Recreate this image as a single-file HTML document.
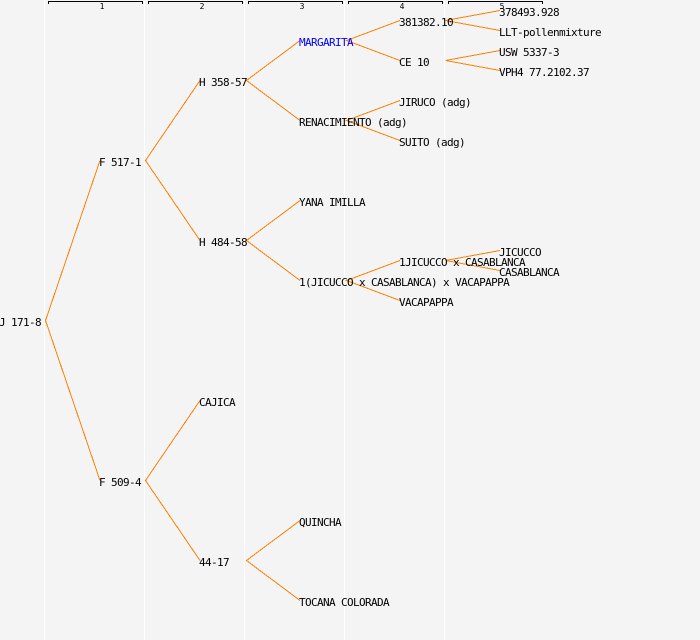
<!DOCTYPE html>
<html>
<head>
<meta charset="utf-8">
<style>
html,body{margin:0;padding:0;background:#f4f4f4;width:700px;height:640px;overflow:hidden}
svg{display:block}
text{font-family:"DejaVu Sans Mono","Liberation Mono",monospace;font-size:11px;letter-spacing:-0.62px;fill:#000}
text.h{font-size:8px;letter-spacing:0;text-anchor:middle}
</style>
</head>
<body>
<svg width="700" height="640" viewBox="0 0 700 640" xmlns="http://www.w3.org/2000/svg">
<rect width="700" height="640" fill="#f4f4f4"/>
<g stroke="#ffffff" stroke-width="1" shape-rendering="crispEdges">
<line x1="44.5" y1="0" x2="44.5" y2="640"/>
<line x1="144.5" y1="0" x2="144.5" y2="640"/>
<line x1="244.5" y1="0" x2="244.5" y2="640"/>
<line x1="344.5" y1="0" x2="344.5" y2="640"/>
<line x1="444.5" y1="0" x2="444.5" y2="640"/>
</g>
<g fill="none" stroke="#000" stroke-width="1" shape-rendering="crispEdges">
<path d="M48.5 4V1.5H142.5V4"/>
<path d="M148.5 4V1.5H242.5V4"/>
<path d="M248.5 4V1.5H342.5V4"/>
<path d="M348.5 4V1.5H442.5V4"/>
<path d="M448.5 4V1.5H542.5V4"/>
</g>
<text class="h" x="102" y="9">1</text>
<text class="h" x="202" y="9">2</text>
<text class="h" x="302" y="9">3</text>
<text class="h" x="402" y="9">4</text>
<text class="h" x="502" y="9">5</text>
<g stroke="#ff8000" stroke-width="1" fill="none" shape-rendering="crispEdges">
<path d="M100 160.500L45.500 320.500L100 480.500"/>
<path d="M200 80.500L145.500 160.500L200 240.500"/>
<path d="M200 400.500L145.500 480.500L200 560.500"/>
<path d="M300 40.500L246.500 80.500L300 120.500"/>
<path d="M300 200.500L246.500 240.500L300 280.500"/>
<path d="M300 520.500L246.500 560.500L300 600.500"/>
<path d="M400 20.500L346.500 40.500L400 60.500"/>
<path d="M400 100.500L346.500 120.500L400 140.500"/>
<path d="M400 260.500L346.500 280.500L400 300.500"/>
<path d="M500 10.500L445.500 20.500L500 30.500"/>
<path d="M500 50.500L445.500 60.500L500 70.500"/>
<path d="M500 250.500L445.500 260.500L500 270.500"/>
</g>
<text x="-1" y="326">J 171-8</text>
<text x="99" y="166">F 517-1</text>
<text x="99" y="486">F 509-4</text>
<text x="199" y="86">H 358-57</text>
<text x="199" y="246">H 484-58</text>
<text x="199" y="406">CAJICA</text>
<text x="199" y="566">44-17</text>
<text x="299" y="46" style="fill:#0000ff">MARGARITA</text>
<text x="299" y="126">RENACIMIENTO (adg)</text>
<text x="299" y="206">YANA IMILLA</text>
<text x="299" y="286">1(JICUCCO x CASABLANCA) x VACAPAPPA</text>
<text x="299" y="526">QUINCHA</text>
<text x="299" y="606">TOCANA COLORADA</text>
<text x="399" y="26">381382.10</text>
<text x="399" y="66">CE 10</text>
<text x="399" y="106">JIRUCO (adg)</text>
<text x="399" y="146">SUITO (adg)</text>
<text x="399" y="266">1JICUCCO x CASABLANCA</text>
<text x="399" y="306">VACAPAPPA</text>
<text x="499" y="16">378493.928</text>
<text x="499" y="36">LLT-pollenmixture</text>
<text x="499" y="56">USW 5337-3</text>
<text x="499" y="76">VPH4 77.2102.37</text>
<text x="499" y="256">JICUCCO</text>
<text x="499" y="276">CASABLANCA</text>
</svg>
</body>
</html>
